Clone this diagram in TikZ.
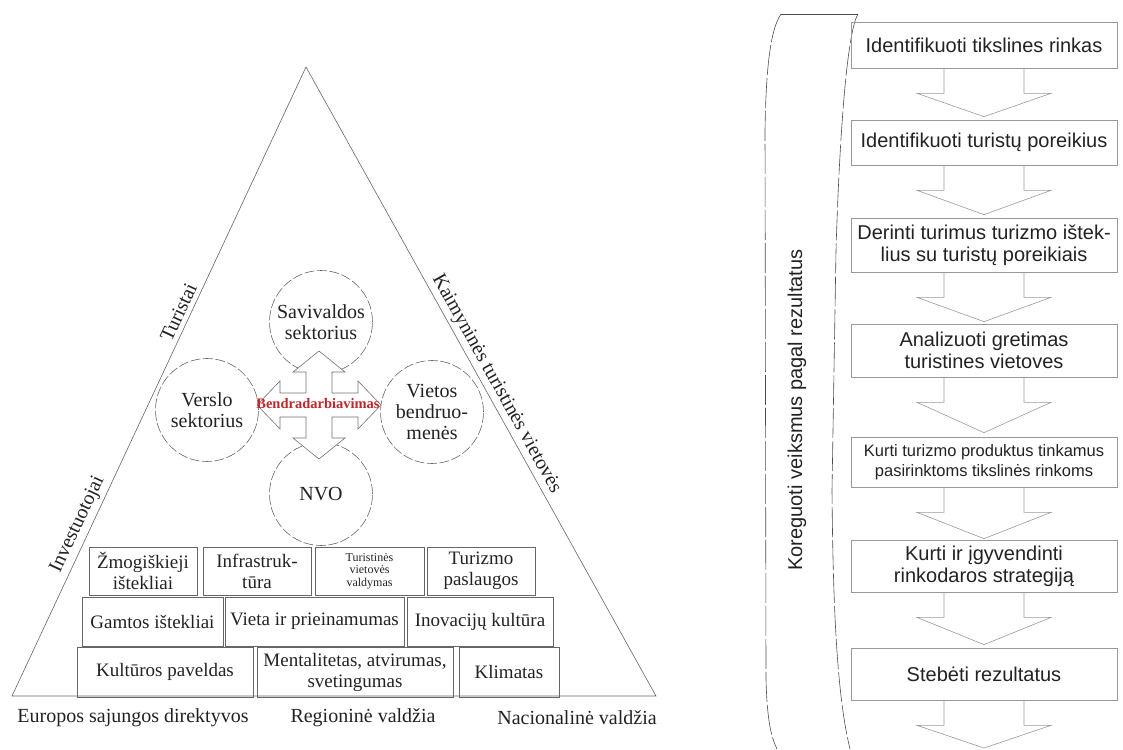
\documentclass[tikz,border=0pt]{standalone}
\usepackage{fontspec}
\setmainfont{Liberation Serif}
\newfontfamily\sansf{Liberation Sans}
\usetikzlibrary{calc}
\definecolor{txt}{HTML}{222222}
\definecolor{redtxt}{HTML}{C0262C}
\newcommand\flowarr[2]{\draw[rarrow] ($(#1.south)+(-40,0)$) -- ($(#1.south)+(-40,25)$) -- ($(#1.south)+(-67,25)$) -- #2 -- ($(#1.south)+(67,25)$) -- ($(#1.south)+(40,25)$) -- ($(#1.south)+(40,0)$);}
\begin{document}
\begin{tikzpicture}[x=1pt,y=-1pt,
  lbox/.style={draw=black!60, line width=0.7pt, inner sep=0pt, align=center, text=txt, font=\fontsize{19}{21}\selectfont},
  circ/.style={circle, draw=black!60, line width=0.6pt, dash pattern=on 10pt off 2.5pt, minimum size=103pt, inner sep=0pt, align=center, text=txt, font=\fontsize{20}{21}\selectfont},
  side/.style={text=txt, font=\fontsize{20}{22}\selectfont, anchor=south},
  base/.style={text=txt, font=\fontsize{20}{22}\selectfont},
  rbox/.style={draw=black!40, line width=0.7pt, inner sep=0pt, minimum width=266pt, align=center, text=txt, font=\sansf\fontsize{20}{22}\selectfont},
  rarrow/.style={draw=black!40, line width=0.6pt},
  hubarrow/.style={draw=black!55, fill=white, line width=0.6pt},
  band/.style={draw=black!70, line width=0.6pt, dash pattern=on 30pt off 3pt}
]
\useasboundingbox (0,0) rectangle (1123,749);

% ---------- left: triangle ----------
\coordinate (A) at (306,67);
\coordinate (L) at (12,696);
\coordinate (R) at (656,696);
\draw[black!60, line width=0.6pt] (L) -- (A) -- (R) -- cycle;

\node[side, rotate=65, inner sep=4pt] (tur) at (188.4,316.8) {Turistai};
\node[side, rotate=65, inner sep=4pt] (inv) at (89.6,530) {Investuotojai};
\node[side, rotate=-60.9, inner sep=3pt] (kai) at (485.7,390) {Kaimyninės turistinės vietovės};

% circles
\node[circ] (sav) at (321,322) {Savivaldos\\sektorius};
\node[circ] (ver) at (207,410) {Verslo\\sektorius};
\node[circ] (vie) at (432,412) {Vietos\\bendruo-\\menės};
\node[circ] (nvo) at (321,494) {NVO};

% four-way arrow
\coordinate (hub) at (319,405);
\draw[hubarrow, shift={(hub)}]
  (0,-54) -- (26,-33) -- (13,-33) -- (13,-12) -- (39,-12) -- (39,-24) -- (62,0)
  -- (39,24) -- (39,12) -- (13,12) -- (13,33) -- (26,33) -- (0,54)
  -- (-26,33) -- (-13,33) -- (-13,12) -- (-39,12) -- (-39,24) -- (-62,0)
  -- (-39,-24) -- (-39,-12) -- (-13,-12) -- (-13,-33) -- (-26,-33) -- cycle;
\node[text=redtxt, font=\bfseries\fontsize{14.5}{15}\selectfont, inner sep=0pt] (bend) at (318,404) {Bendradarbiavimas};

% boxes row 1
\node[lbox, minimum width=108pt, minimum height=48pt] (z1) at (143,571) {Žmogiškieji\\ištekliai};
\node[lbox, minimum width=108pt, minimum height=48pt] (z2) at (257,571) {Infrastruk-\\tūra};
\node[lbox, minimum width=109pt, minimum height=48pt, font=\fontsize{12}{12.5}\selectfont] (z3) at (369.5,571) {Turistinės\\vietovės\\valdymas};
\node[lbox, minimum width=108pt, minimum height=48pt] (z4) at (481,571) {Turizmo\\paslaugos};
% row 2
\node[lbox, minimum width=141pt, minimum height=49pt] (g1) at (152.5,621.5) {Gamtos ištekliai};
\node[lbox, minimum width=179pt, minimum height=49pt] (g2) at (314.5,621.5) {Vieta ir prieinamumas};
\node[lbox, minimum width=146pt, minimum height=49pt] (g3) at (480,621.5) {Inovacijų kultūra};
% row 3
\node[lbox, minimum width=176pt, minimum height=50pt] (k1) at (165,672) {Kultūros paveldas};
\node[lbox, minimum width=196pt, minimum height=50pt] (k2) at (355,672) {Mentalitetas, atvirumas,\\svetingumas};
\node[lbox, minimum width=100pt, minimum height=50pt] (k3) at (509,672) {Klimatas};

% bottom labels
\node[base] (eu) at (133,718) {Europos sajungos direktyvos};
\node[base] (reg) at (363,718) {Regioninė valdžia};
\node[base] (nac) at (577,718) {Nacionalinė valdžia};

% ---------- right: band ----------
\draw[black!70, line width=0.6pt] (781,14) -- (858,14);
\draw[band] (781,14) .. controls (770,30) and (766,70) .. (765,130) -- (766,680) .. controls (767,715) and (770,735) .. (777,749);
\draw[band] (858,14) .. controls (848,30) and (840,120) .. (836,250) -- (832,490) .. controls (833,620) and (838,700) .. (850,749);
\node[text=txt, font=\sansf\fontsize{20}{22}\selectfont, rotate=90] (kor) at (797,410) {Koreguoti veiksmus pagal rezultatus};

% flow boxes
\node[rbox, minimum height=46pt] (b1) at (984,45) {Identifikuoti tikslines rinkas};
\node[rbox, minimum height=45pt] (b2) at (984,142.5) {Identifikuoti turistų poreikius};
\node[rbox, minimum height=54pt] (b3) at (984,245) {Derinti turimus turizmo ištek-\\lius su turistų poreikiais};
\node[rbox, minimum height=53pt] (b4) at (984,350.5) {Analizuoti gretimas\\turistines vietoves};
\node[rbox, minimum height=50pt, font=\sansf\fontsize{16.5}{20}\selectfont] (b5) at (984,462) {Kurti turizmo produktus tinkamus\\pasirinktoms tikslinės rinkoms};
\node[rbox, minimum height=52pt] (b6) at (984,566) {Kurti ir įgyvendinti\\rinkodaros strategiją};
\node[rbox, minimum height=52pt] (b7) at (984,674) {Stebėti rezultatus};
\coordinate (endtip) at (984,748);

\flowarr{b1}{($(b2.north)+(0,-3)$)}
\flowarr{b2}{($(b3.north)+(0,-3)$)}
\flowarr{b3}{($(b4.north)+(0,-2)$)}
\flowarr{b4}{($(b5.north)+(0,-4)$)}
\flowarr{b5}{($(b6.north)+(0,-1)$)}
\flowarr{b6}{($(b7.north)+(0,-3)$)}
\flowarr{b7}{(endtip)}
\end{tikzpicture}
\end{document}
